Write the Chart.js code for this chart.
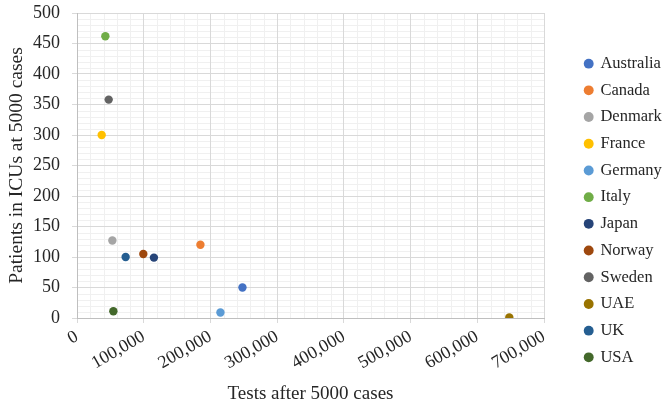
<!DOCTYPE html>
<html>
<head>
<meta charset="utf-8">
<script src="https://cdn.jsdelivr.net/npm/chart.js@4/dist/chart.umd.min.js"></script>
<style>
html,body{margin:0;padding:0;background:#fff;}
#wrap{width:663px;height:407px;position:relative;}
</style>
</head>
<body>
<div id="wrap"><canvas id="c" width="663" height="407"></canvas></div>
<script>
const countries = ["Australia","Canada","Denmark","France","Germany","Italy","Japan","Norway","Sweden","UAE","UK","USA"];
const tests = [248000,185000,53000,37000,215000,42500,115300,99400,47500,648000,72900,54500];
const icu = [50,120,127,300,9,462,99,105,358,1,100,11];
const colors = ["#4472C4","#ED7D31","#A5A5A5","#FFC000","#5B9BD5","#70AD47","#264478","#9E480E","#636363","#997300","#255E91","#43682B"];
const xTicks = [0,100000,200000,300000,400000,500000,600000,700000];
const yTicks = [0,50,100,150,200,250,300,350,400,450,500];

const FONT = "'Liberation Serif','Times New Roman',serif";
const TXT = '#262626';

const datasets = countries.map((c,i)=>({
  label: c,
  data: [{x: tests[i], y: icu[i]}],
  backgroundColor: colors[i],
  borderColor: colors[i],
  pointRadius: 4.2,
  pointHoverRadius: 4.2,
  borderWidth: 0
}));

const minorGrid = {
  id: 'minorGrid',
  beforeDraw(chart){
    const {ctx, chartArea:a, scales:{x,y}} = chart;
    ctx.save();
    ctx.strokeStyle = '#f0f0f0';
    ctx.lineWidth = 1;
    for(let v=0; v<=700000; v+=20000){
      if(v % 100000 === 0) continue;
      const px = Math.round(x.getPixelForValue(v))+0.5;
      ctx.beginPath(); ctx.moveTo(px,a.top); ctx.lineTo(px,a.bottom); ctx.stroke();
    }
    for(let v=0; v<=500; v+=10){
      if(v % 50 === 0) continue;
      const py = Math.round(y.getPixelForValue(v))+0.5;
      ctx.beginPath(); ctx.moveTo(a.left,py); ctx.lineTo(a.right,py); ctx.stroke();
    }
    ctx.restore();
  }
};

const legendPlace = {
  id: 'legendPlace',
  afterInit(chart){
    const lg = chart.legend;
    const fit = lg.fit.bind(lg);
    lg.fit = function(){ fit(); this.width = 119; };
  },
  afterLayout(chart){
    const lg = chart.legend;
    lg.left += 31; lg.right += 31;
    lg.top += 0.5; lg.bottom += 0.5;
  }
};

new Chart(document.getElementById('c'), {
  type: 'scatter',
  data: { datasets },
  options: {
    responsive: false,
    animation: false,
    devicePixelRatio: 1,
    layout: { padding: { top: 13, right: 0, left: 0, bottom: 0 } },
    plugins: {
      tooltip: { enabled: false },
      legend: {
        position: 'right',
        align: 'center',
        labels: {
          usePointStyle: true,
          pointStyle: 'circle',
          boxWidth: 7,
          boxHeight: 7,
          padding: 10.2,
          color: TXT,
          font: { family: FONT, size: 16.5 }
        }
      }
    },
    scales: {
      x: {
        type: 'linear',
        min: 0, max: 700000,
        afterBuildTicks(s){ s.ticks = xTicks.map(v=>({value:v})); },
        afterFit(s){ s.height = 89; s.paddingLeft = 0; s.paddingRight = 0; },
        ticks: {
          minRotation: 30, maxRotation: 30,
          color: TXT,
          font: { family: FONT, size: 18 },
          callback: v => v.toLocaleString('en-US')
        },
        grid: { color: '#d9d9d9', tickLength: 5, tickColor: '#d9d9d9' },
        border: { color: '#bfbfbf' },
        title: { display: true, text: 'Tests after 5000 cases', color: TXT, font: { family: FONT, size: 19 }, padding: {top: 0, bottom: 2} }
      },
      y: {
        type: 'linear',
        min: 0, max: 500,
        afterBuildTicks(s){ s.ticks = yTicks.map(v=>({value:v})); },
        afterFit(s){ s.width = 77; s.paddingTop = 0; s.paddingBottom = 0; },
        ticks: {
          color: TXT,
          font: { family: FONT, size: 18 },
          padding: 12
        },
        grid: { color: '#d9d9d9', tickLength: 5, tickColor: '#d9d9d9' },
        border: { color: '#bfbfbf' },
        title: { display: true, text: 'Patients in ICUs at 5000 cases', color: TXT, font: { family: FONT, size: 19.5 }, padding: {top: 5.3, bottom: 0} }
      }
    }
  },
  plugins: [minorGrid, legendPlace]
});
</script>
</body>
</html>
